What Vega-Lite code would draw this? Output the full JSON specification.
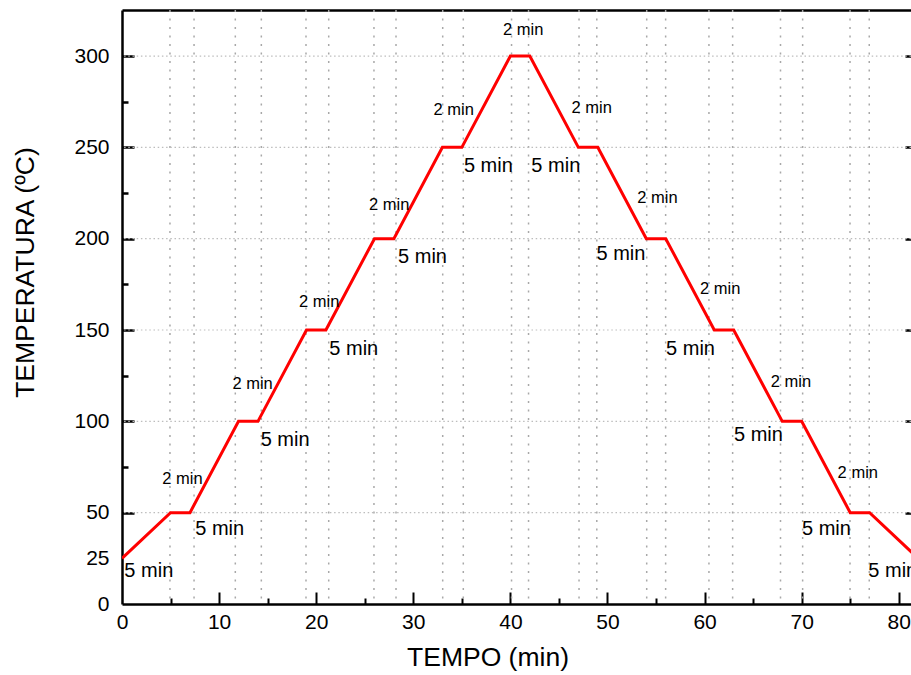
{
  "$schema": "https://vega.github.io/schema/vega-lite/v6.json",
  "width": 789,
  "height": 594,
  "autosize": {"type": "none"},
  "padding": {"left": 122, "top": 10, "right": 0, "bottom": 71},
  "background": "white",
  "config": {
    "view": {"stroke": null},
    "font": "Liberation Sans",
    "axis": {"grid": false, "labelFont": "Liberation Sans", "titleFont": "Liberation Sans", "labelColor": "black", "titleColor": "black", "titleFontWeight": "normal", "domainColor": "black", "tickColor": "black"}
  },
  "datasets": {
    "profile": [
      {"t": 0, "T": 25}, {"t": 5, "T": 50}, {"t": 7, "T": 50}, {"t": 12, "T": 100}, {"t": 14, "T": 100},
      {"t": 19, "T": 150}, {"t": 21, "T": 150}, {"t": 26, "T": 200}, {"t": 28, "T": 200},
      {"t": 33, "T": 250}, {"t": 35, "T": 250}, {"t": 40, "T": 300}, {"t": 42, "T": 300},
      {"t": 47, "T": 250}, {"t": 49, "T": 250}, {"t": 54, "T": 200}, {"t": 56, "T": 200},
      {"t": 61, "T": 150}, {"t": 63, "T": 150}, {"t": 68, "T": 100}, {"t": 70, "T": 100},
      {"t": 75, "T": 50}, {"t": 77, "T": 50}, {"t": 82, "T": 25}
    ],
    "notes": [
      {"x": 2.76, "y": 18.1, "label": "5 min"},
      {"x": 6.23, "y": 68.7, "label": "2 min"},
      {"x": 10.06, "y": 40.8, "label": "5 min"},
      {"x": 13.45, "y": 120.5, "label": "2 min"},
      {"x": 16.8, "y": 90, "label": "5 min"},
      {"x": 20.31, "y": 165.5, "label": "2 min"},
      {"x": 23.87, "y": 139.7, "label": "5 min"},
      {"x": 27.52, "y": 218.6, "label": "2 min"},
      {"x": 30.95, "y": 190, "label": "5 min"},
      {"x": 34.17, "y": 270.4, "label": "2 min"},
      {"x": 37.73, "y": 239.9, "label": "5 min"},
      {"x": 41.32, "y": 314, "label": "2 min"},
      {"x": 44.68, "y": 239.9, "label": "5 min"},
      {"x": 48.37, "y": 271.3, "label": "2 min"},
      {"x": 51.39, "y": 191.5, "label": "5 min"},
      {"x": 55.15, "y": 222.3, "label": "2 min"},
      {"x": 58.55, "y": 139.7, "label": "5 min"},
      {"x": 61.61, "y": 172.6, "label": "2 min"},
      {"x": 65.55, "y": 92.5, "label": "5 min"},
      {"x": 68.9, "y": 121.5, "label": "2 min"},
      {"x": 72.55, "y": 40.8, "label": "5 min"},
      {"x": 75.78, "y": 71.7, "label": "2 min"},
      {"x": 79.38, "y": 17.9, "label": "5 min"}
    ],
    "vgrid": [
      {"gx": 4.94}, {"gx": 7.42}, {"gx": 11.67}, {"gx": 14.35}, {"gx": 18.95}, {"gx": 21.29},
      {"gx": 25.95}, {"gx": 28.22}, {"gx": 33.03}, {"gx": 35.15}, {"gx": 40.12}, {"gx": 41.87},
      {"gx": 47.07}, {"gx": 48.9}, {"gx": 54.04}, {"gx": 55.99}, {"gx": 60.45}, {"gx": 62.89},
      {"gx": 67.82}, {"gx": 70.1}, {"gx": 74.98}, {"gx": 76.96}
    ],
    "hgrid": [{"gy": 50}, {"gy": 100}, {"gy": 150}, {"gy": 200}, {"gy": 250}, {"gy": 300}]
  },
  "layer": [
    {
      "data": {"name": "vgrid"},
      "mark": {"type": "rule", "color": "#a8a8a8", "strokeWidth": 1.5, "strokeDash": [2, 6.5]},
      "encoding": {
        "x": {"field": "gx", "type": "quantitative",
          "scale": {"domain": [0, 81.26], "nice": false, "zero": false},
          "axis": {"orient": "bottom", "values": [5, 10, 15, 20, 25, 30, 35, 40, 45, 50, 55, 60, 65, 70, 75, 80],
            "labels": false, "domain": false, "title": null, "tickWidth": 2,
            "tickSize": {"condition": {"test": "datum.value % 10 === 0", "value": -12}, "value": -6}}}
      }
    },
    {
      "data": {"name": "hgrid"},
      "mark": {"type": "rule", "color": "#bdbdbd", "strokeWidth": 1.2, "strokeDash": [1.5, 2.7]},
      "encoding": {
        "y": {"field": "gy", "type": "quantitative",
          "scale": {"domain": [0, 325.2], "nice": false, "zero": false},
          "axis": {"orient": "left", "values": [50, 75, 100, 125, 150, 175, 200, 225, 250, 275, 300],
            "labels": false, "domain": false, "title": null, "tickWidth": 2.5,
            "tickSize": {"condition": {"test": "datum.value % 50 === 0", "value": -12}, "value": -6}}}
      }
    },
    {
      "data": {"name": "profile"},
      "mark": {"type": "line", "color": "#ff0000", "strokeWidth": 3, "clip": true},
      "encoding": {
        "x": {"field": "t", "type": "quantitative",
          "scale": {"domain": [0, 81.26], "nice": false, "zero": false},
          "axis": {"orient": "bottom", "values": [0, 10, 20, 30, 40, 50, 60, 70, 80],
            "ticks": false, "domain": true, "domainWidth": 2.5, "labelFontSize": 21, "labelPadding": 7,
            "labelFlush": false, "labelOverlap": false,
            "title": "TEMPO (min)", "titleFontSize": 26.5, "titleX": 365.5, "titleY": 61,
            "titleAlign": "center", "titleBaseline": "alphabetic"}},
        "y": {"field": "T", "type": "quantitative",
          "scale": {"domain": [0, 325.2], "nice": false, "zero": false},
          "axis": {"orient": "left", "values": [0, 25, 50, 100, 150, 200, 250, 300],
            "ticks": false, "domain": true, "domainWidth": 2.5, "labelFontSize": 21, "labelPadding": 13,
            "labelFlush": false, "labelOverlap": false, "labelBaseline": "middle",
            "title": "TEMPERATURA (ºC)", "titleFontSize": 26.5, "titleX": -88.7, "titleY": 262,
            "titleAngle": -90, "titleAlign": "center", "titleBaseline": "alphabetic"}}
      }
    },
    {
      "data": {"name": "notes"},
      "mark": {"type": "text", "color": "black", "font": "Liberation Sans", "align": "center", "baseline": "middle"},
      "encoding": {
        "x": {"field": "x", "type": "quantitative",
          "scale": {"domain": [0, 81.26], "nice": false, "zero": false},
          "axis": {"orient": "top", "labels": false, "ticks": false, "domain": true, "domainWidth": 2.5, "title": null}},
        "y": {"field": "y", "type": "quantitative",
          "scale": {"domain": [0, 325.2], "nice": false, "zero": false},
          "axis": {"orient": "right", "values": [50, 100, 150, 200, 250, 300], "labels": false, "domain": false,
            "title": null, "tickWidth": 2.5, "tickSize": -6}},
        "text": {"field": "label"},
        "size": {"condition": {"test": "datum.label === '2 min'", "value": 16.5}, "value": 20}
      }
    }
  ],
  "resolve": {"axis": {"x": "independent", "y": "independent"}}
}
